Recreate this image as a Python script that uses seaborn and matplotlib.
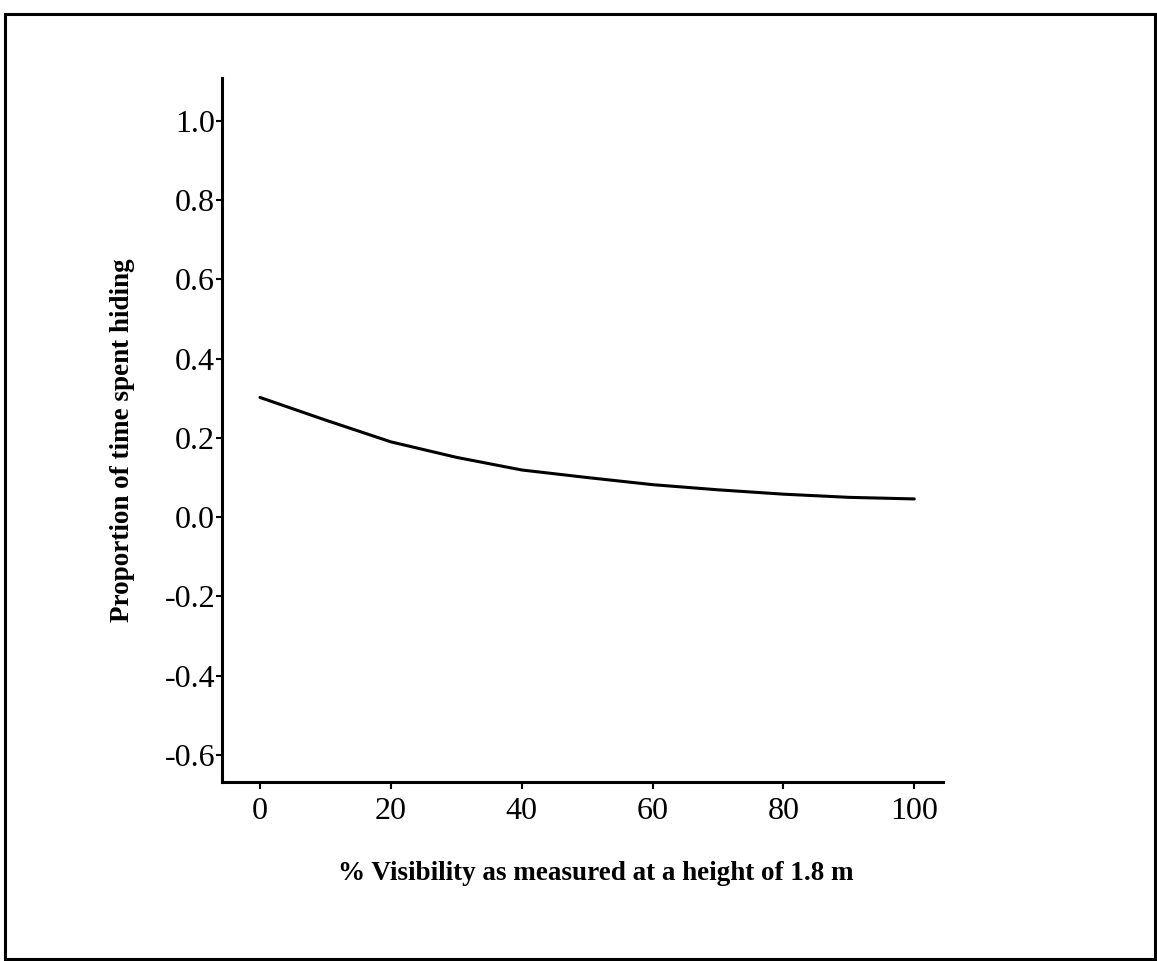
import pandas as pd
import matplotlib.pyplot as plt
import seaborn as sns
from matplotlib.patches import Rectangle

# Data
visibility = [0, 10, 20, 30, 40, 50, 60, 70, 80, 90, 100]
hiding = [0.302, 0.245, 0.190, 0.151, 0.119, 0.100, 0.082, 0.069, 0.058, 0.050, 0.046]

x_ticks = [0, 20, 40, 60, 80, 100]
y_ticks = [-0.6, -0.4, -0.2, 0.0, 0.2, 0.4, 0.6, 0.8, 1.0]

df = pd.DataFrame({"visibility": visibility, "hiding": hiding})

# Style
sns.set_style("ticks")
plt.rcParams['font.family'] = ['Liberation Serif', 'DejaVu Serif']
plt.rcParams['text.color'] = 'black'
plt.rcParams['axes.labelcolor'] = 'black'

fig = plt.figure(figsize=(11.57, 9.61), dpi=100)
ax = fig.add_axes([0.1919, 0.1863, 0.6232, 0.7326])

sns.lineplot(data=df, x="visibility", y="hiding", color="black", linewidth=2.2, ax=ax)

ax.set_xlim(-5.8, 104.4)
ax.set_ylim(-0.668, 1.108)
ax.set_xticks(x_ticks)
ax.set_yticks(y_ticks)
ax.set_xticklabels([str(t) for t in x_ticks])
ax.set_yticklabels([f"{t:.1f}" for t in y_ticks])

for side in ["top", "right"]:
    ax.spines[side].set_visible(False)
for side in ["left", "bottom"]:
    ax.spines[side].set_linewidth(2.2)
    ax.spines[side].set_color("black")

ax.tick_params(axis="y", length=4, width=1.5, pad=1, labelsize=23, colors="black")
ax.tick_params(axis="x", length=5, width=1.5, pad=6, labelsize=23, colors="black")

ax.set_xlabel("% Visibility as measured at a height of 1.8 m", fontsize=19.5, fontweight="bold")
ax.set_ylabel("Proportion of time spent hiding", fontsize=19.5, fontweight="bold")
ax.xaxis.set_label_coords(0.519, -0.112)
ax.yaxis.set_label_coords(-0.121, 0.486)

# Frame around the whole figure
fig.patches.append(Rectangle((5 / 1157, 2 / 961), 1150 / 1157, 945 / 961,
                             transform=fig.transFigure, fill=False,
                             edgecolor="black", linewidth=2.2))

plt.savefig("out.png", dpi=100)
